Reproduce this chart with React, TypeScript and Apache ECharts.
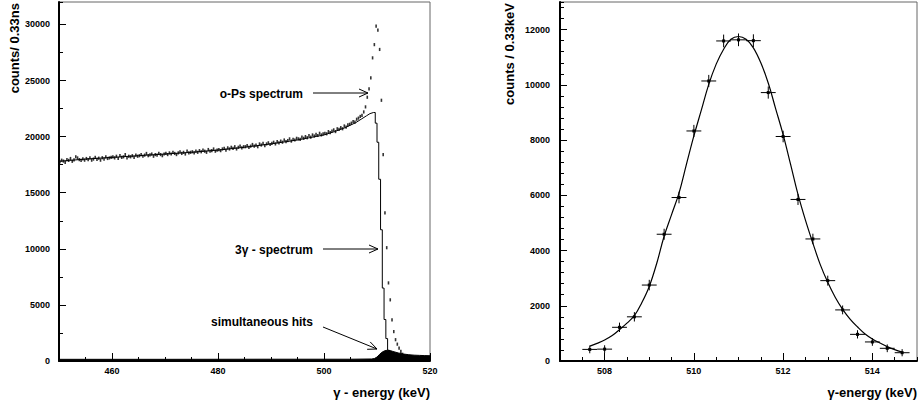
import React, { useEffect, useRef } from "react";
import * as echarts from "echarts";

const FONT = "'Liberation Sans', Arial, Helvetica, sans-serif";

// ---------- Left panel: o-Ps spectrum ----------
const leftXTicks = [460, 480, 500, 520];
const leftYTicks = [0, 5000, 10000, 15000, 20000, 25000, 30000];
const leftBinStart = 450;
const leftBinWidth = 1 / 3;
const oPsCounts = [
  17750, 17900, 17820, 17700, 17950, 17880, 18050, 17800, 17930, 18200, 18100, 17950, 17880, 18020, 17900,
  18050, 17950, 18100, 17900, 18000, 18150, 17980, 18080, 17900, 18120, 18000, 18200, 18050, 18100, 18150,
  18200, 18100, 18250, 18050, 18300, 18150, 18200, 18400, 18100, 18250, 18200, 18300, 18150, 18350, 18250,
  18300, 18400, 18250, 18350, 18500, 18300, 18380, 18450, 18250, 18400, 18350, 18500, 18400, 18300, 18450,
  18500, 18400, 18550, 18450, 18600, 18500, 18400, 18550, 18650, 18500, 18600, 18450, 18700, 18550, 18600,
  18650, 18550, 18700, 18600, 18750, 18650, 18800, 18700, 18600, 18850, 18700, 18750, 18900, 18700, 18800,
  18850, 18750, 18900, 18950, 18800, 19000, 18900, 19050, 18950, 19100, 18900, 19050, 19150, 19000, 19100,
  19100, 19200, 19050, 19150, 19300, 19150, 19250, 19100, 19350, 19250, 19400, 19200, 19350, 19450, 19300,
  19400, 19500, 19350, 19550, 19450, 19600, 19500, 19700, 19550, 19650, 19800, 19600, 19750, 19700, 19850,
  19800, 19750, 19950, 19850, 20000, 19900, 20100, 19950, 20150, 20050, 20200, 20100, 20300, 20150, 20250,
  20300, 20250, 20450, 20350, 20500, 20600, 20450, 20700, 20650, 20800, 20700, 20950, 20850, 21050, 21100,
  21200, 21350, 21300, 21550, 21650, 21800, 21900, 22200,
  22650, 23510, 24260, 25240, 27020, 28200, 29850, 29500, 27770, 23240, 18390, 13200, 10100, 6960, 5450,
  3660, 2620, 1900, 1500, 1150, 850, 600, 450, 380, 350, 340, 330, 320, 310, 300, 300, 290, 290, 280, 280,
  270, 270,
];
const threeGammaX = [
  450, 452, 455, 460, 465, 470, 475, 480, 485, 490, 495, 500, 502, 504, 506, 507, 508, 508.67, 509.33,
  509.67, 509.67, 510, 510, 510.33, 510.33, 510.67, 510.67, 511, 511, 511.33, 511.33, 511.67, 511.67,
  512, 512, 512.33, 512.33, 512.67, 512.67, 520,
];
const threeGammaY = [
  17800, 17880, 18000, 18150, 18300, 18450, 18600, 18800, 19050, 19350, 19700, 20150, 20450, 20800, 21250,
  21550, 21850, 22050, 22150, 22150, 21200, 21200, 19500, 19500, 16200, 16200, 11700, 11700, 6500, 6500,
  3700, 3700, 2000, 2000, 950, 950, 400, 400, 150, 150,
];
const simHitsX = [450, 470, 490, 505, 509, 509.5, 510, 510.5, 511, 511.5, 512, 512.5, 513, 514, 515, 516, 517, 518, 519, 520];
const simHitsY = [150, 150, 160, 160, 180, 220, 350, 600, 800, 920, 960, 930, 850, 720, 620, 560, 520, 500, 480, 470];

// ---------- Right panel: 511 keV peak ----------
const rightXTicks = [508, 510, 512, 514];
const rightYTicks = [0, 2000, 4000, 6000, 8000, 10000, 12000];
const peakBinStart = 507.5;
const peakBinWidth = 1 / 3;
const peakCounts = [420, 430, 1220, 1600, 2750, 4590, 5920, 8330, 10140, 11590, 11630, 11600, 9720, 8130, 5850, 4420, 2910, 1850, 965, 690, 460, 300];
const peakErr = [140, 140, 170, 170, 190, 200, 210, 220, 220, 230, 230, 230, 220, 210, 200, 190, 180, 160, 150, 140, 140, 130];
const fitX = [
  507.67, 507.83, 508, 508.17, 508.33, 508.5, 508.67, 508.83, 509, 509.17, 509.33, 509.5, 509.67, 509.83,
  510, 510.17, 510.33, 510.5, 510.67, 510.83, 511, 511.17, 511.33, 511.5, 511.67, 511.83, 512, 512.17,
  512.33, 512.5, 512.67, 512.83, 513, 513.17, 513.33, 513.5, 513.67, 513.83, 514, 514.17, 514.33, 514.5, 514.67,
];
const fitY = [
  540, 640, 760, 920, 1130, 1370, 1650, 2100, 2700, 3550, 4500, 5300, 6100, 7100,
  8150, 9100, 10000, 10750, 11300, 11650, 11750, 11650, 11350, 10800, 10050, 9150, 8200, 7100,
  6050, 5100, 4250, 3500, 2850, 2300, 1880, 1520, 1230, 990, 800, 650, 520, 410, 320,
];

const tickLabel = {
  fontSize: 9, fontWeight: "bold", color: "#000", fontFamily: FONT,
  formatter: (v: number) => String(v),
};

function majorX(grid: number, min: number, max: number, ticks: number[]) {
  return {
    gridIndex: grid, type: "value", min, max, position: "bottom",
    axisLine: { show: true, onZero: false, lineStyle: { color: "#000", width: 2 } },
    axisTick: { show: true, inside: true, length: 8, customValues: ticks, lineStyle: { color: "#000", width: 1 } },
    axisLabel: { ...tickLabel, margin: 5, customValues: ticks },
    splitLine: { show: false },
  };
}
function minorX(grid: number, min: number, max: number, interval: number) {
  return {
    gridIndex: grid, type: "value", min, max, interval, position: "bottom",
    axisLine: { show: false, onZero: false },
    axisTick: { show: true, inside: true, length: 4, lineStyle: { color: "#000", width: 1 } },
    axisLabel: { show: false }, splitLine: { show: false },
  };
}
function majorY(grid: number, max: number, ticks: number[], margin: number) {
  return {
    gridIndex: grid, type: "value", min: 0, max, position: "left",
    axisLine: { show: true, onZero: false, lineStyle: { color: "#000", width: 2 } },
    axisTick: { show: true, inside: true, length: 7, customValues: ticks, lineStyle: { color: "#000", width: 1 } },
    axisLabel: { ...tickLabel, margin, customValues: ticks },
    splitLine: { show: false },
  };
}
function minorY(grid: number, max: number, interval: number) {
  return {
    gridIndex: grid, type: "value", min: 0, max, interval, position: "left",
    axisLine: { show: false, onZero: false },
    axisTick: { show: true, inside: true, length: 4, lineStyle: { color: "#000", width: 1 } },
    axisLabel: { show: false }, splitLine: { show: false },
  };
}

function arrowHead(tip: [number, number], from: [number, number], len = 9, half = 4) {
  const dx = tip[0] - from[0], dy = tip[1] - from[1];
  const d = Math.hypot(dx, dy);
  const ux = dx / d, uy = dy / d;
  const bx = tip[0] - ux * len, by = tip[1] - uy * len;
  return {
    type: "polyline",
    shape: { points: [[bx - uy * half, by + ux * half], tip, [bx + uy * half, by - ux * half]] },
    style: { stroke: "#000", lineWidth: 1, fill: null },
  };
}
function arrow(from: [number, number], to: [number, number]) {
  return [
    { type: "line", shape: { x1: from[0], y1: from[1], x2: to[0], y2: to[1] }, style: { stroke: "#000", lineWidth: 1 } },
    arrowHead(to, from),
  ];
}
const labelStyle = (text: string, x: number, y: number, align: string, size = 12) => ({
  type: "text", x, y,
  style: { text, fill: "#000", font: `bold ${size}px ${FONT}`, align, verticalAlign: "middle" },
});

export default function App() {
  const ref = useRef<HTMLDivElement>(null);
  useEffect(() => {
    if (!ref.current) return;
    const chart = echarts.init(ref.current, null, { renderer: "svg" });
    const dots = oPsCounts.map((v, i) => [leftBinStart + (i + 0.5) * leftBinWidth, v]);
    const line3g = threeGammaX.map((x, i) => [x, threeGammaY[i]]);
    const sim = simHitsX.map((x, i) => [x, simHitsY[i]]);
    const peak = peakCounts.map((v, i) => [peakBinStart + (i + 0.5) * peakBinWidth, v, peakErr[i], peakBinWidth / 2]);
    const fit = fitX.map((x, i) => [x, fitY[i]]);

    chart.setOption({
      animation: false,
      backgroundColor: "#fff",
      grid: [
        { left: 59, right: 489, top: 2, bottom: 41, show: true, borderColor: "#666", borderWidth: 1 },
        { left: 560, right: 2, top: 2, bottom: 41, show: true, borderColor: "#666", borderWidth: 1 },
      ],
      xAxis: [
        majorX(0, 450, 520, leftXTicks),
        minorX(0, 450, 520, 5),
        majorX(1, 507, 515, rightXTicks),
        minorX(1, 507, 515, 0.5),
      ],
      yAxis: [
        majorY(0, 32000, leftYTicks, 9),
        minorY(0, 32000, 2500),
        majorY(1, 13000, rightYTicks, 10),
        minorY(1, 13000, 400),
      ],
      series: [
        {
          type: "line", xAxisIndex: 0, yAxisIndex: 0, data: sim, symbol: "none",
          lineStyle: { color: "#000", width: 1 }, areaStyle: { color: "#000", opacity: 1 },
        },
        {
          type: "line", xAxisIndex: 0, yAxisIndex: 0, data: line3g, symbol: "none",
          lineStyle: { color: "#000", width: 1 },
        },
        {
          type: "scatter", xAxisIndex: 0, yAxisIndex: 0, data: dots, symbol: "rect",
          symbolSize: [1.6, 3.2], itemStyle: { color: "#000" },
        },
        {
          type: "line", xAxisIndex: 2, yAxisIndex: 2, data: fit, symbol: "none", smooth: 0.4,
          lineStyle: { color: "#000", width: 1.2 },
        },
        {
          type: "custom", xAxisIndex: 2, yAxisIndex: 2, data: peak, encode: { x: 0, y: 1 },
          renderItem: (params: any, api: any) => {
            const x = api.value(0), y = api.value(1), e = api.value(2), hw = api.value(3);
            const pL = api.coord([x - hw, y]);
            const pR = api.coord([x + hw, y]);
            const pT = api.coord([x, y + e]);
            const pB = api.coord([x, y - e]);
            const c = api.coord([x, y]);
            return {
              type: "group",
              children: [
                { type: "line", shape: { x1: pL[0], y1: pL[1], x2: pR[0], y2: pR[1] }, style: { stroke: "#000", lineWidth: 1 } },
                { type: "line", shape: { x1: pT[0], y1: pT[1], x2: pB[0], y2: pB[1] }, style: { stroke: "#000", lineWidth: 1 } },
                { type: "rect", shape: { x: c[0] - 1.5, y: c[1] - 1.5, width: 3, height: 3 }, style: { fill: "#000" } },
              ],
            };
          },
        },
      ],
      graphic: [
        { type: "text", x: 14, y: 3, rotation: Math.PI / 2, style: { text: "counts/ 0.33ns", fill: "#000", font: `bold 13px ${FONT}`, align: "right", verticalAlign: "middle" } },
        { type: "text", x: 509, y: 3, rotation: Math.PI / 2, style: { text: "counts / 0.33keV", fill: "#000", font: `bold 13px ${FONT}`, align: "right", verticalAlign: "middle" } },
        labelStyle("γ - energy (keV)", 430, 392, "right", 13),
        labelStyle("γ-energy (keV)", 917, 392, "right", 13),
        labelStyle("o-Ps spectrum", 303, 94, "right"),
        labelStyle("3γ - spectrum", 313, 250, "right"),
        labelStyle("simultaneous hits", 313, 322, "right"),
        ...arrow([313, 93], [368, 93]),
        ...arrow([323, 249], [378, 249]),
        ...arrow([323, 327], [377, 349]),
      ],
    });
    return () => chart.dispose();
  }, []);
  return <div ref={ref} style={{ position: "absolute", left: 0, top: 0, width: "919px", height: "402px", background: "#fff" }} />;
}
